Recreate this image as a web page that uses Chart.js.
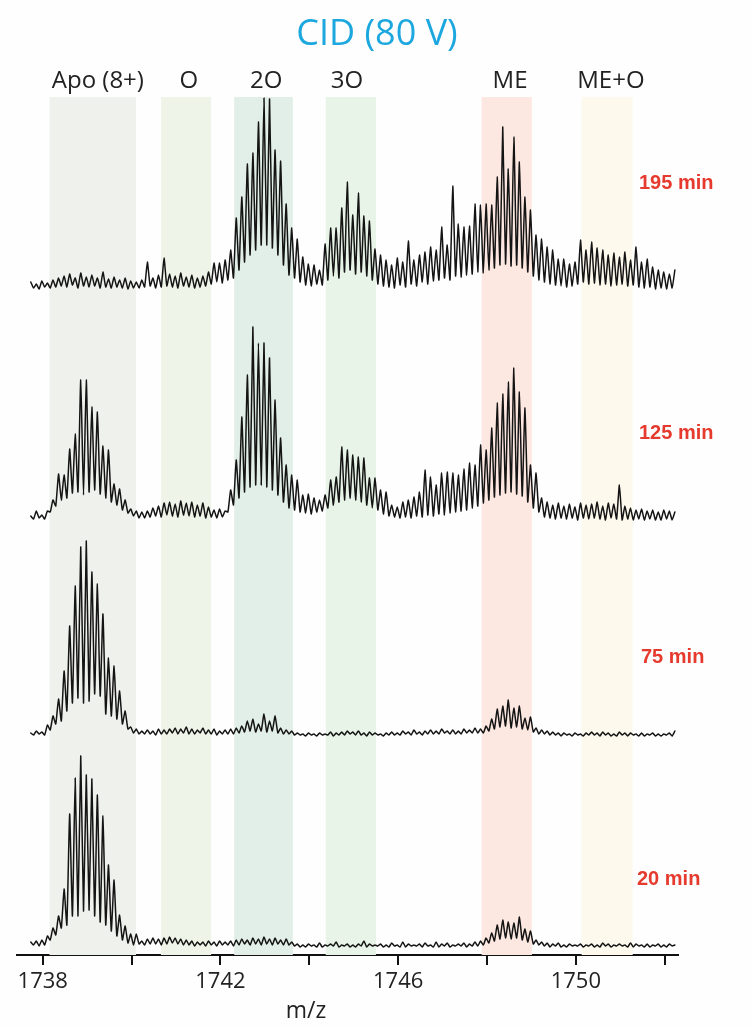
<!DOCTYPE html>
<html>
<head>
<meta charset="utf-8">
<script src="https://cdn.jsdelivr.net/npm/chart.js@4.4.1/dist/chart.umd.min.js"></script>
<style>
  html, body { margin: 0; padding: 0; background: #fefefe; }
  #wrap { width: 752px; height: 1027px; position: relative; }
</style>
</head>
<body>
<div id="wrap"><canvas id="c" width="752" height="1027"></canvas></div>
<script>
// ---- sampling grid (m/z of first point, half isotope spacing for 8+) ----
const mzStart = 1737.73;
const mzStep = 0.0625;

// ---- x axis ----
const xMin = 1737.42, xMax = 1752.3;
const tickValues = [1738, 1740, 1742, 1744, 1746, 1748, 1750, 1752];
const tickLabels = ['1738', '', '1742', '', '1746', '', '1750', ''];

// ---- species bands (m/z ranges) ----
const bandNames = ['Apo (8+)', 'O', '2O', '3O', 'ME', 'ME+O'];
const bandStart = [1738.15, 1740.66, 1742.31, 1744.37, 1747.88, 1750.13];
const bandEnd   = [1740.10, 1741.79, 1743.63, 1745.50, 1749.01, 1751.28];
const bandLabelMz = [1739.24, 1741.29, 1743.03, 1744.85, 1748.52, 1750.79];
const bandColors = ['#eff1ec', '#eef5e8', '#e2efe8', '#e7f4e7', '#fde8e1', '#fdf9ed'];

// ---- traces: intensity at isotope peak apexes and the troughs between ----
const timeLabels = ['20 min', '75 min', '125 min', '195 min'];

const peaks20 = [5,6,7,11,19,31,58,133,169,191,172,168,152,131,82,67,32,21,13,13,
  6,8,9,8,9,10,9,8,7,6,5,5,6,5,6,5,6,7,8,7,9,8,10,8,9,7,8,5,
  3,2,3,2,4,2,3,5,2,3,2,3,6,3,2,3,2,4,2,5,3,2,3,4,2,5,3,4,2,3,4,3,5,6,
  9,14,22,27,25,24,30,18,16,7,
  5,4,3,4,2,3,2,3,2,3,2,4,3,2,3,2,4,3,2,3,2,3,2,3,2];
const troughs20 = [2,1,2,7,12,19,22,31,31,36,37,31,25,22,16,11,7,4,2,3,
  2,3,3,2,3,4,3,2,2,1,2,1,2,1,2,2,1,2,3,2,3,2,3,2,3,2,2,1,
  0,0,1,0,0,1,1,0,1,0,0,1,0,1,1,0,0,1,0,0,1,1,0,1,0,0,1,0,1,1,0,1,1,2,
  4,6,8,9,8,9,7,5,3,2,
  1,0,1,0,0,1,1,0,1,0,0,1,0,1,1,0,0,1,0,0,1,0,0,1];

const peaks75 = [3,5,4,11,20,37,65,110,150,189,195,164,152,122,78,70,45,25,9,7,
  5,6,5,7,6,7,8,7,9,7,6,8,6,7,5,6,7,8,10,15,17,12,22,15,20,8,6,5,
  3,2,3,2,3,2,4,3,4,5,4,5,3,4,3,2,3,4,3,5,4,6,4,5,6,5,7,5,6,5,7,6,8,7,
  10,17,27,30,36,28,30,18,19,8,
  6,5,4,3,3,2,3,2,3,4,3,4,3,2,4,3,3,2,3,2,3,2,2,3,5];
const troughs75 = [1,2,1,6,12,15,25,33,38,33,35,42,40,22,20,17,12,7,3,2,
  2,2,1,2,2,3,2,3,2,2,3,2,2,1,2,2,2,3,4,5,4,5,4,5,3,2,2,1,
  1,0,1,0,1,1,0,1,1,2,1,1,0,1,1,0,1,1,1,2,1,2,1,2,2,2,3,2,2,2,3,3,3,3,
  5,7,9,10,8,9,7,6,4,2,
  2,1,1,0,1,0,1,0,1,1,0,1,0,0,1,0,1,0,0,1,0,0,1,0];

const peaks125 = [4,9,5,9,20,46,45,71,86,140,140,113,108,74,70,36,31,20,11,9,
  8,9,12,14,17,18,16,19,17,18,15,17,13,10,11,9,30,60,103,145,193,177,177,162,120,82,55,45,
  40,25,26,22,20,25,40,43,73,70,65,63,62,42,42,30,28,15,13,18,20,23,28,50,43,35,47,48,47,45,51,57,55,75,
  70,92,117,126,138,152,128,112,55,47,
  22,18,15,17,14,16,13,17,15,16,18,14,17,16,35,14,12,10,11,9,10,8,10,9,8];
const troughs125 = [1,2,1,8,14,20,22,27,28,25,28,30,26,22,18,15,10,7,4,2,
  2,3,4,3,5,4,3,5,4,3,4,2,3,2,3,8,15,22,28,33,35,35,33,30,25,18,12,10,
  8,7,6,8,9,12,15,18,20,22,20,18,15,12,10,6,4,3,2,3,2,4,3,5,4,6,5,7,8,9,10,12,14,17,
  20,23,25,27,28,26,24,18,12,8,
  3,2,1,2,1,2,0,2,1,2,1,0,2,1,0,1,0,1,0,1,0,0,1,0];

const peaks195 = [8,6,9,7,10,12,14,16,12,17,13,15,12,18,11,13,10,12,9,8,
  10,28,12,15,32,16,14,17,13,15,12,14,18,27,27,30,40,72,93,126,137,168,192,191,140,129,86,62,
  51,33,26,25,20,46,62,62,82,108,75,97,74,69,41,35,30,25,32,28,49,30,35,38,43,40,63,45,104,66,63,64,86,85,
  86,85,113,163,121,153,128,93,80,55,
  51,43,40,31,31,26,28,50,40,48,42,40,35,37,33,38,30,43,28,31,23,20,18,16,20];
const troughs195 = [2,1,3,2,3,4,3,5,2,4,3,4,2,3,2,3,2,1,2,2,
  3,4,2,3,4,3,2,4,3,2,3,4,6,8,7,10,12,20,28,35,40,45,45,42,35,25,15,12,
  8,5,4,6,5,10,14,12,18,20,16,18,14,10,6,4,3,2,5,3,6,4,8,6,9,10,12,10,14,13,15,16,18,17,
  20,22,25,26,24,25,22,18,14,10,
  8,6,5,4,3,4,6,8,6,7,5,6,4,5,6,4,5,3,2,3,1,2,1,2];

// vertical offset of each trace in the stacked display (same units as intensity)
const traceOffsets = [8, 219, 435, 665];
const timeLabelPos = [[637, 879], [641, 657], [639, 433], [639, 183]];

function interleave(p, t) {
  const out = [];
  for (let i = 0; i < p.length; i++) {
    out.push(p[i]);
    if (i < t.length) out.push(t[i]);
  }
  return out;
}
const traces = [
  interleave(peaks20, troughs20),
  interleave(peaks75, troughs75),
  interleave(peaks125, troughs125),
  interleave(peaks195, troughs195)
];

const datasets = traces.map((vals, j) => ({
  label: timeLabels[j],
  data: vals.map((v, i) => ({ x: mzStart + i * mzStep, y: traceOffsets[j] + v })),
  borderColor: '#141414',
  borderWidth: 1.5,
  borderJoinStyle: 'round',
  borderCapStyle: 'round',
  pointRadius: 0,
  tension: 0.15,
  fill: false,
  clip: false
}));

const decorPlugin = {
  id: 'decor',
  beforeDraw(chart) {
    const ctx = chart.ctx;
    ctx.save();
    ctx.fillStyle = '#fefefe';
    ctx.fillRect(0, 0, chart.width, chart.height);
    ctx.restore();
  },
  beforeDatasetsDraw(chart) {
    const ctx = chart.ctx, xs = chart.scales.x, a = chart.chartArea;
    ctx.save();
    for (let i = 0; i < bandNames.length; i++) {
      const x0 = xs.getPixelForValue(bandStart[i]);
      const x1 = xs.getPixelForValue(bandEnd[i]);
      ctx.fillStyle = bandColors[i];
      ctx.fillRect(x0, a.top, x1 - x0, a.bottom - a.top);
    }
    ctx.restore();
  },
  afterDraw(chart) {
    const ctx = chart.ctx, xs = chart.scales.x;
    ctx.save();
    ctx.textBaseline = 'middle';
    ctx.textAlign = 'center';
    ctx.fillStyle = '#1ca8df';
    ctx.font = '36px "Open Sans"';
    ctx.fillText('CID (80 V)', 377, 35);
    ctx.fillStyle = '#222';
    ctx.font = '24px "Open Sans"';
    for (let i = 0; i < bandNames.length; i++) {
      ctx.fillText(bandNames[i], xs.getPixelForValue(bandLabelMz[i]), 81);
    }
    ctx.font = '23px "Open Sans"';
    ctx.fillText('m/z', 306, 1011);
    ctx.textAlign = 'left';
    ctx.fillStyle = '#e53a2d';
    ctx.font = 'bold 20px "Liberation Sans"';
    for (let j = 0; j < timeLabels.length; j++) {
      ctx.fillText(timeLabels[j], timeLabelPos[j][0], timeLabelPos[j][1]);
    }
    ctx.restore();
  }
};

new Chart(document.getElementById('c'), {
  type: 'line',
  data: { datasets },
  options: {
    responsive: false,
    animation: false,
    events: [],
    layout: { padding: { left: 17, right: 74, top: 97, bottom: 0 } },
    plugins: { legend: { display: false }, tooltip: { enabled: false } },
    scales: {
      x: {
        type: 'linear',
        min: xMin,
        max: xMax,
        afterBuildTicks: (s) => { s.ticks = tickValues.map(v => ({ value: v })); },
        afterFit: (s) => { s.height = 72; },
        border: { display: true, color: '#111', width: 2 },
        grid: { drawOnChartArea: false, drawTicks: true, tickLength: 10, color: '#111', lineWidth: 2 },
        ticks: {
          autoSkip: false,
          maxRotation: 0,
          padding: 4,
          color: '#222',
          font: { family: 'Open Sans', size: 22 },
          callback: (v) => tickLabels[tickValues.indexOf(v)] ?? ''
        }
      },
      y: { display: false, min: 0, max: 858 }
    }
  },
  plugins: [decorPlugin]
});
</script>
</body>
</html>
